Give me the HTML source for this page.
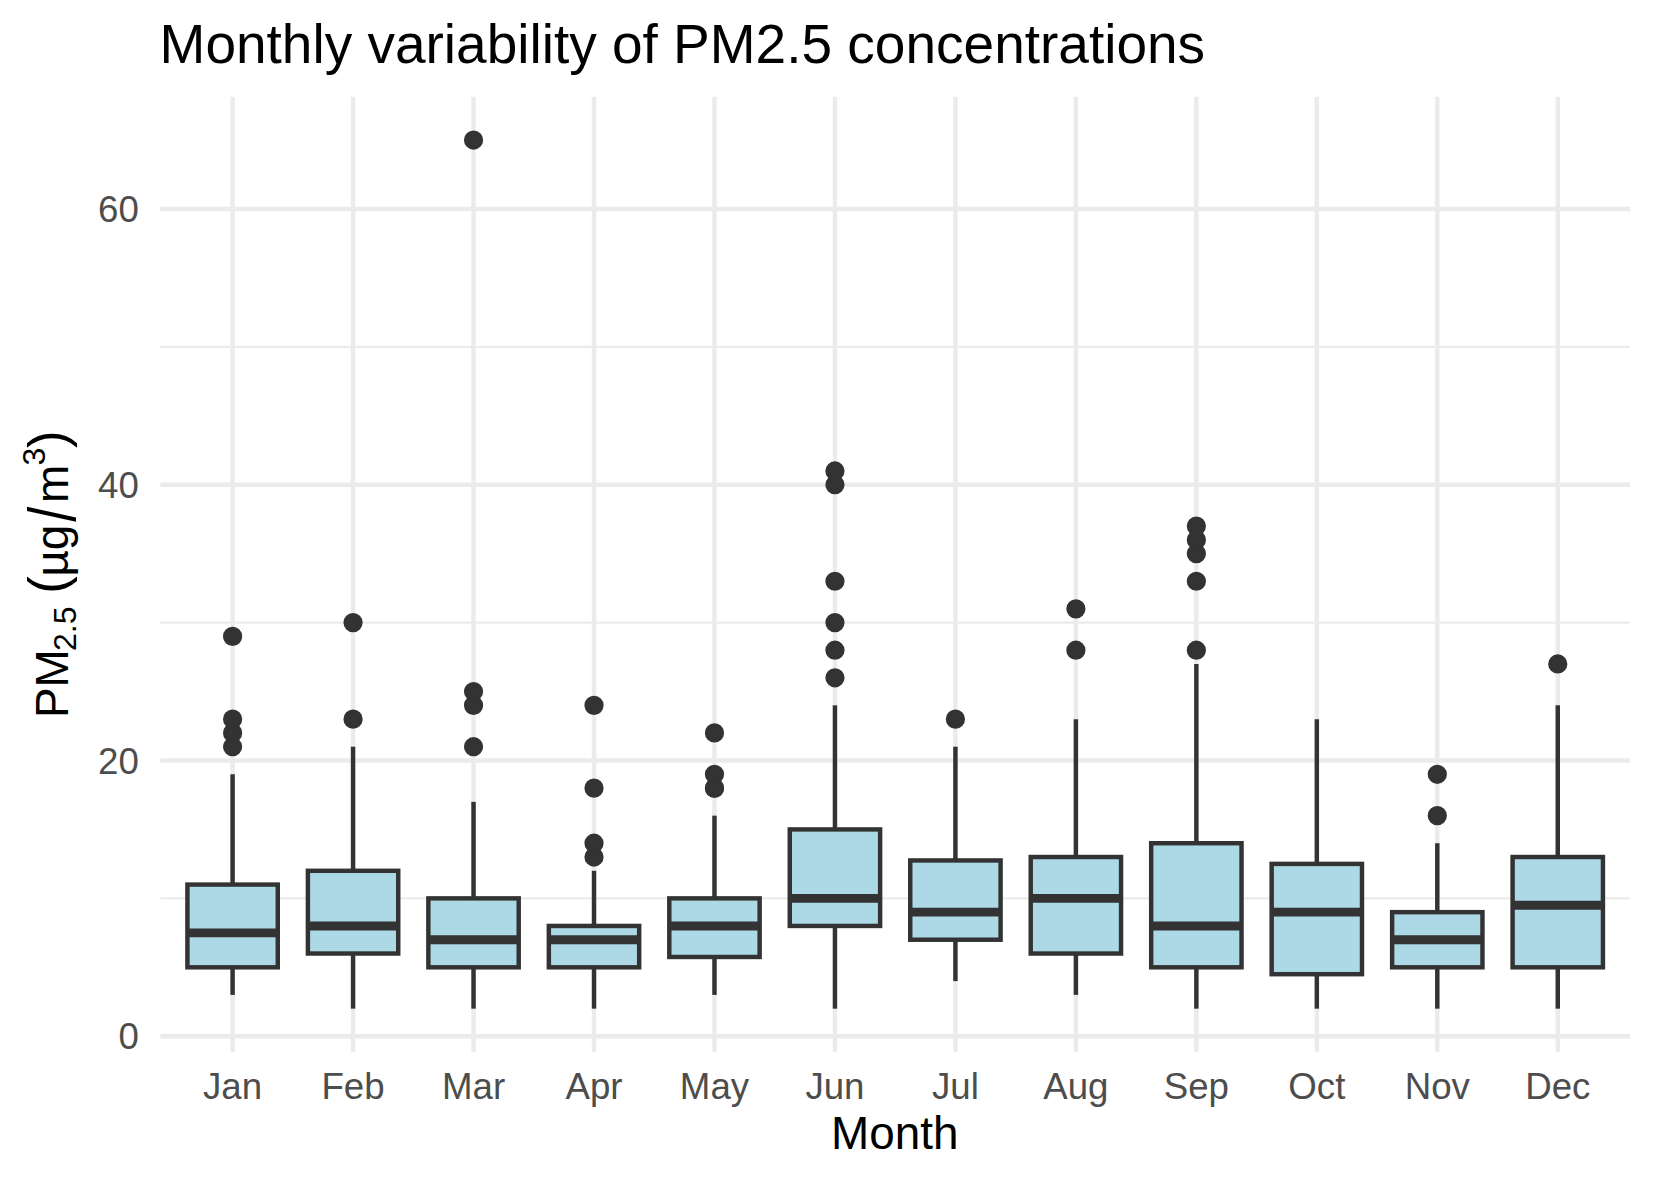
<!DOCTYPE html>
<html lang="en"><head><meta charset="utf-8"><title>Monthly variability of PM2.5 concentrations</title>
<style>html,body{margin:0;padding:0;background:#fff}body{width:1653px;height:1181px;overflow:hidden}svg{display:block}text{font-family:"Liberation Sans",Arial,Helvetica,sans-serif}</style></head><body>
<svg width="1653" height="1181" viewBox="0 0 1653 1181">
<rect width="1653" height="1181" fill="#ffffff"/>
<g stroke="#EBEBEB" fill="none" stroke-linecap="butt">
<line x1="160.3" x2="1630.1" y1="898.37" y2="898.37" stroke-width="2.22"/>
<line x1="160.3" x2="1630.1" y1="622.61" y2="622.61" stroke-width="2.22"/>
<line x1="160.3" x2="1630.1" y1="346.85" y2="346.85" stroke-width="2.22"/>
<line x1="160.3" x2="1630.1" y1="1036.25" y2="1036.25" stroke-width="4.45"/>
<line x1="160.3" x2="1630.1" y1="760.49" y2="760.49" stroke-width="4.45"/>
<line x1="160.3" x2="1630.1" y1="484.73" y2="484.73" stroke-width="4.45"/>
<line x1="160.3" x2="1630.1" y1="208.97" y2="208.97" stroke-width="4.45"/>
<line x1="232.60" x2="232.60" y1="96.7" y2="1052.0" stroke-width="4.45"/>
<line x1="353.07" x2="353.07" y1="96.7" y2="1052.0" stroke-width="4.45"/>
<line x1="473.54" x2="473.54" y1="96.7" y2="1052.0" stroke-width="4.45"/>
<line x1="594.01" x2="594.01" y1="96.7" y2="1052.0" stroke-width="4.45"/>
<line x1="714.48" x2="714.48" y1="96.7" y2="1052.0" stroke-width="4.45"/>
<line x1="834.95" x2="834.95" y1="96.7" y2="1052.0" stroke-width="4.45"/>
<line x1="955.42" x2="955.42" y1="96.7" y2="1052.0" stroke-width="4.45"/>
<line x1="1075.89" x2="1075.89" y1="96.7" y2="1052.0" stroke-width="4.45"/>
<line x1="1196.36" x2="1196.36" y1="96.7" y2="1052.0" stroke-width="4.45"/>
<line x1="1316.83" x2="1316.83" y1="96.7" y2="1052.0" stroke-width="4.45"/>
<line x1="1437.30" x2="1437.30" y1="96.7" y2="1052.0" stroke-width="4.45"/>
<line x1="1557.77" x2="1557.77" y1="96.7" y2="1052.0" stroke-width="4.45"/>
</g>
<g>
<g fill="#333333" stroke="#333333" stroke-width="2.95">
<circle cx="232.60" cy="746.70" r="8.15"/>
<circle cx="232.60" cy="732.91" r="8.15"/>
<circle cx="232.60" cy="719.13" r="8.15"/>
<circle cx="232.60" cy="636.40" r="8.15"/>
</g>
<g stroke="#333333" stroke-width="4.45" stroke-linecap="butt" stroke-linejoin="miter" fill="none">
<line x1="232.60" x2="232.60" y1="884.58" y2="774.28"/>
<line x1="232.60" x2="232.60" y1="967.31" y2="994.89"/>
<rect x="187.42" y="884.58" width="90.35" height="82.73" fill="#ADD8E6"/>
<line x1="187.42" x2="277.78" y1="932.84" y2="932.84" stroke-width="8.9"/>
</g></g>
<g>
<g fill="#333333" stroke="#333333" stroke-width="2.95">
<circle cx="353.07" cy="719.13" r="8.15"/>
<circle cx="353.07" cy="622.61" r="8.15"/>
</g>
<g stroke="#333333" stroke-width="4.45" stroke-linecap="butt" stroke-linejoin="miter" fill="none">
<line x1="353.07" x2="353.07" y1="870.79" y2="746.70"/>
<line x1="353.07" x2="353.07" y1="953.52" y2="1008.67"/>
<rect x="307.89" y="870.79" width="90.35" height="82.73" fill="#ADD8E6"/>
<line x1="307.89" x2="398.25" y1="925.95" y2="925.95" stroke-width="8.9"/>
</g></g>
<g>
<g fill="#333333" stroke="#333333" stroke-width="2.95">
<circle cx="473.54" cy="746.70" r="8.15"/>
<circle cx="473.54" cy="705.34" r="8.15"/>
<circle cx="473.54" cy="691.55" r="8.15"/>
<circle cx="473.54" cy="140.03" r="8.15"/>
</g>
<g stroke="#333333" stroke-width="4.45" stroke-linecap="butt" stroke-linejoin="miter" fill="none">
<line x1="473.54" x2="473.54" y1="898.37" y2="801.85"/>
<line x1="473.54" x2="473.54" y1="967.31" y2="1008.67"/>
<rect x="428.36" y="898.37" width="90.35" height="68.94" fill="#ADD8E6"/>
<line x1="428.36" x2="518.72" y1="939.73" y2="939.73" stroke-width="8.9"/>
</g></g>
<g>
<g fill="#333333" stroke="#333333" stroke-width="2.95">
<circle cx="594.01" cy="857.01" r="8.15"/>
<circle cx="594.01" cy="843.22" r="8.15"/>
<circle cx="594.01" cy="788.07" r="8.15"/>
<circle cx="594.01" cy="705.34" r="8.15"/>
</g>
<g stroke="#333333" stroke-width="4.45" stroke-linecap="butt" stroke-linejoin="miter" fill="none">
<line x1="594.01" x2="594.01" y1="925.95" y2="870.79"/>
<line x1="594.01" x2="594.01" y1="967.31" y2="1008.67"/>
<rect x="548.83" y="925.95" width="90.35" height="41.36" fill="#ADD8E6"/>
<line x1="548.83" x2="639.19" y1="939.73" y2="939.73" stroke-width="8.9"/>
</g></g>
<g>
<g fill="#333333" stroke="#333333" stroke-width="2.95">
<circle cx="714.48" cy="788.07" r="8.15"/>
<circle cx="714.48" cy="788.07" r="8.15"/>
<circle cx="714.48" cy="774.28" r="8.15"/>
<circle cx="714.48" cy="732.91" r="8.15"/>
</g>
<g stroke="#333333" stroke-width="4.45" stroke-linecap="butt" stroke-linejoin="miter" fill="none">
<line x1="714.48" x2="714.48" y1="898.37" y2="815.64"/>
<line x1="714.48" x2="714.48" y1="956.97" y2="994.89"/>
<rect x="669.30" y="898.37" width="90.35" height="58.60" fill="#ADD8E6"/>
<line x1="669.30" x2="759.66" y1="925.95" y2="925.95" stroke-width="8.9"/>
</g></g>
<g>
<g fill="#333333" stroke="#333333" stroke-width="2.95">
<circle cx="834.95" cy="677.76" r="8.15"/>
<circle cx="834.95" cy="650.19" r="8.15"/>
<circle cx="834.95" cy="622.61" r="8.15"/>
<circle cx="834.95" cy="581.25" r="8.15"/>
<circle cx="834.95" cy="484.73" r="8.15"/>
<circle cx="834.95" cy="470.94" r="8.15"/>
</g>
<g stroke="#333333" stroke-width="4.45" stroke-linecap="butt" stroke-linejoin="miter" fill="none">
<line x1="834.95" x2="834.95" y1="829.43" y2="705.34"/>
<line x1="834.95" x2="834.95" y1="925.95" y2="1008.67"/>
<rect x="789.77" y="829.43" width="90.35" height="96.52" fill="#ADD8E6"/>
<line x1="789.77" x2="880.13" y1="898.37" y2="898.37" stroke-width="8.9"/>
</g></g>
<g>
<g fill="#333333" stroke="#333333" stroke-width="2.95">
<circle cx="955.42" cy="719.13" r="8.15"/>
</g>
<g stroke="#333333" stroke-width="4.45" stroke-linecap="butt" stroke-linejoin="miter" fill="none">
<line x1="955.42" x2="955.42" y1="860.45" y2="746.70"/>
<line x1="955.42" x2="955.42" y1="939.73" y2="981.10"/>
<rect x="910.24" y="860.45" width="90.35" height="79.28" fill="#ADD8E6"/>
<line x1="910.24" x2="1000.60" y1="912.16" y2="912.16" stroke-width="8.9"/>
</g></g>
<g>
<g fill="#333333" stroke="#333333" stroke-width="2.95">
<circle cx="1075.89" cy="650.19" r="8.15"/>
<circle cx="1075.89" cy="608.82" r="8.15"/>
</g>
<g stroke="#333333" stroke-width="4.45" stroke-linecap="butt" stroke-linejoin="miter" fill="none">
<line x1="1075.89" x2="1075.89" y1="857.01" y2="719.13"/>
<line x1="1075.89" x2="1075.89" y1="953.52" y2="994.89"/>
<rect x="1030.71" y="857.01" width="90.35" height="96.52" fill="#ADD8E6"/>
<line x1="1030.71" x2="1121.07" y1="898.37" y2="898.37" stroke-width="8.9"/>
</g></g>
<g>
<g fill="#333333" stroke="#333333" stroke-width="2.95">
<circle cx="1196.36" cy="650.19" r="8.15"/>
<circle cx="1196.36" cy="581.25" r="8.15"/>
<circle cx="1196.36" cy="553.67" r="8.15"/>
<circle cx="1196.36" cy="539.88" r="8.15"/>
<circle cx="1196.36" cy="526.09" r="8.15"/>
</g>
<g stroke="#333333" stroke-width="4.45" stroke-linecap="butt" stroke-linejoin="miter" fill="none">
<line x1="1196.36" x2="1196.36" y1="843.22" y2="663.97"/>
<line x1="1196.36" x2="1196.36" y1="967.31" y2="1008.67"/>
<rect x="1151.18" y="843.22" width="90.35" height="124.09" fill="#ADD8E6"/>
<line x1="1151.18" x2="1241.54" y1="925.95" y2="925.95" stroke-width="8.9"/>
</g></g>
<g>
<g fill="#333333" stroke="#333333" stroke-width="2.95">
</g>
<g stroke="#333333" stroke-width="4.45" stroke-linecap="butt" stroke-linejoin="miter" fill="none">
<line x1="1316.83" x2="1316.83" y1="863.90" y2="719.13"/>
<line x1="1316.83" x2="1316.83" y1="974.20" y2="1008.67"/>
<rect x="1271.65" y="863.90" width="90.35" height="110.30" fill="#ADD8E6"/>
<line x1="1271.65" x2="1362.01" y1="912.16" y2="912.16" stroke-width="8.9"/>
</g></g>
<g>
<g fill="#333333" stroke="#333333" stroke-width="2.95">
<circle cx="1437.30" cy="815.64" r="8.15"/>
<circle cx="1437.30" cy="774.28" r="8.15"/>
</g>
<g stroke="#333333" stroke-width="4.45" stroke-linecap="butt" stroke-linejoin="miter" fill="none">
<line x1="1437.30" x2="1437.30" y1="912.16" y2="843.22"/>
<line x1="1437.30" x2="1437.30" y1="967.31" y2="1008.67"/>
<rect x="1392.12" y="912.16" width="90.35" height="55.15" fill="#ADD8E6"/>
<line x1="1392.12" x2="1482.48" y1="939.73" y2="939.73" stroke-width="8.9"/>
</g></g>
<g>
<g fill="#333333" stroke="#333333" stroke-width="2.95">
<circle cx="1557.77" cy="663.97" r="8.15"/>
</g>
<g stroke="#333333" stroke-width="4.45" stroke-linecap="butt" stroke-linejoin="miter" fill="none">
<line x1="1557.77" x2="1557.77" y1="857.01" y2="705.34"/>
<line x1="1557.77" x2="1557.77" y1="967.31" y2="1008.67"/>
<rect x="1512.59" y="857.01" width="90.35" height="110.30" fill="#ADD8E6"/>
<line x1="1512.59" x2="1602.95" y1="905.26" y2="905.26" stroke-width="8.9"/>
</g></g>
<g fill="#4D4D4D" font-size="36.67px">
<text x="138.9" y="1049" text-anchor="end">0</text>
<text x="138.9" y="774" text-anchor="end">20</text>
<text x="138.9" y="498" text-anchor="end">40</text>
<text x="138.9" y="222" text-anchor="end">60</text>
<text x="232.60" y="1099" text-anchor="middle">Jan</text>
<text x="353.07" y="1099" text-anchor="middle">Feb</text>
<text x="473.54" y="1099" text-anchor="middle">Mar</text>
<text x="594.01" y="1099" text-anchor="middle">Apr</text>
<text x="714.48" y="1099" text-anchor="middle">May</text>
<text x="834.95" y="1099" text-anchor="middle">Jun</text>
<text x="955.42" y="1099" text-anchor="middle">Jul</text>
<text x="1075.89" y="1099" text-anchor="middle">Aug</text>
<text x="1196.36" y="1099" text-anchor="middle">Sep</text>
<text x="1316.83" y="1099" text-anchor="middle">Oct</text>
<text x="1437.30" y="1099" text-anchor="middle">Nov</text>
<text x="1557.77" y="1099" text-anchor="middle">Dec</text>
</g>
<text x="159.6" y="63" font-size="55px" fill="#000">Monthly variability of PM2.5 concentrations</text>
<text x="894.7" y="1149" font-size="45.83px" fill="#000" text-anchor="middle">Month</text>
<g transform="translate(68.3,718) rotate(-90)" fill="#000" font-size="45.83px">
<text x="0.0" y="0">PM</text>
<text x="66.9" y="7.8" font-size="32.08px">2.5</text>
<text x="124.2" y="-2.1" font-size="52.8px">(</text>
<text x="141.4" y="0">µg</text>
<text transform="translate(196.3,6.8) scale(1.17,1.43)" font-size="46px">/</text>
<text x="215.0" y="0">m</text>
<text x="252.6" y="-23" font-size="32.08px">3</text>
<text x="270.0" y="-2.1" font-size="52.8px">)</text>
</g>
</svg></body></html>
